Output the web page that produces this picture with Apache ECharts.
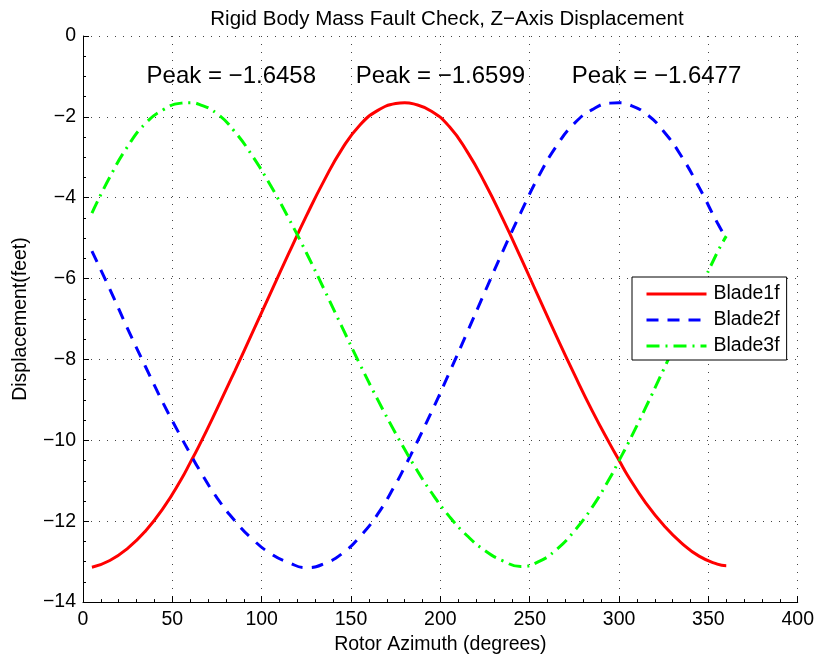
<!DOCTYPE html>
<html>
<head>
<meta charset="utf-8">
<script src="https://cdn.jsdelivr.net/npm/echarts@6/dist/echarts.min.js"></script>
<style>
  html, body { margin: 0; padding: 0; background: #fff; }
  #main { width: 817px; height: 660px; }
</style>
</head>
<body>
<div id="main"></div>
<script>
// rotor azimuth (degrees)
var azimuth = [5, 15, 25, 35, 45, 55, 60, 65, 75, 85, 95, 105, 115, 125, 135, 145, 155, 165, 175, 180,
  185, 195, 205, 215, 225, 235, 245, 255, 265, 275, 285, 295, 300, 305, 315, 325, 335, 345, 355, 360];

// displacement (feet)
var blade1 = [-13.14, -12.97, -12.67, -12.24, -11.67, -10.96, -10.55, -10.13, -9.22, -8.28, -7.32, -6.35, -5.39, -4.45, -3.57, -2.79, -2.20, -1.84, -1.67, -1.65,
  -1.68, -1.86, -2.24, -2.86, -3.64, -4.53, -5.48, -6.46, -7.43, -8.37, -9.27, -10.10, -10.49, -10.88, -11.55, -12.10, -12.54, -12.87, -13.06, -13.10];
var blade2 = [-5.32, -6.26, -7.24, -8.18, -9.09, -9.93, -10.33, -10.72, -11.42, -11.99, -12.45, -12.80, -13.02, -13.15, -13.05, -12.80, -12.38, -11.82, -11.08, -10.66,
  -10.22, -9.30, -8.33, -7.33, -6.32, -5.32, -4.37, -3.47, -2.72, -2.16, -1.82, -1.66, -1.65, -1.69, -1.92, -2.36, -2.98, -3.76, -4.62, -5.00];
var blade3 = [-4.38, -3.49, -2.73, -2.16, -1.82, -1.66, -1.65, -1.69, -1.92, -2.37, -2.98, -3.70, -4.50, -5.36, -6.27, -7.20, -8.12, -9.00, -9.83, -10.22,
  -10.60, -11.29, -11.88, -12.36, -12.73, -12.98, -13.12, -13.00, -12.70, -12.24, -11.65, -10.92, -10.50, -10.08, -9.18, -8.24, -7.28, -6.30, -5.35, -4.95];

var seriesNames = ['Blade1f', 'Blade2f', 'Blade3f'];

// peak annotations, placed in data coordinates
var peakText = ['Peak = −1.6458', 'Peak = −1.6599', 'Peak = −1.6477'];
var peakX = [83, 200, 321];
var peakY = [-1.0, -1.0, -1.0];

var xTicks = [0, 50, 100, 150, 200, 250, 300, 350, 400];
var yTicks = [0, -2, -4, -6, -8, -10, -12, -14];

function pairs(xs, ys) {
  return xs.map(function (x, i) { return [x, ys[i]]; });
}

var font = '"Liberation Sans", Arial, Helvetica, sans-serif';
var gridDots = { show: true, lineStyle: { color: '#444', type: [1, 7], width: 1 } };

var chart = echarts.init(document.getElementById('main'));
chart.setOption({
  animation: false,
  backgroundColor: '#fff',
  title: {
    text: 'Rigid Body Mass Fault Check, Z−Axis Displacement',
    left: 442, top: 4, textAlign: 'center',
    textStyle: { fontFamily: font, fontSize: 20.5, fontWeight: 'normal', color: '#000' }
  },
  grid: { left: 83, right: 16, top: 36, bottom: 57, containLabel: false },
  legend: {
    data: seriesNames,
    orient: 'vertical',
    left: 632, top: 277,
    itemWidth: 60, itemHeight: 14, itemGap: 6,
    padding: [7, 7, 4, 13],
    borderColor: '#000', borderWidth: 1, backgroundColor: '#fff',
    itemStyle: { opacity: 0 },
    lineStyle: { width: 3 },
    textStyle: { fontFamily: font, fontSize: 19.5, color: '#000', lineHeight: 20, padding: [0, 0, 0, 2] }
  },
  xAxis: {
    type: 'value', min: xTicks[0], max: xTicks[xTicks.length - 1], interval: 50,
    name: 'Rotor Azimuth (degrees)', nameLocation: 'middle', nameGap: 30,
    nameTextStyle: { fontFamily: font, fontSize: 19.5, color: '#000' },
    axisLine: { show: true, onZero: false, lineStyle: { color: '#000', width: 1 } },
    axisTick: { show: true, inside: true, length: 6, lineStyle: { color: '#000' } },
    minorTick: { show: true, splitNumber: 5, length: 3, lineStyle: { color: '#000' } },
    axisLabel: { fontFamily: font, fontSize: 19.5, color: '#000', margin: 8 },
    splitLine: gridDots
  },
  yAxis: {
    type: 'value', min: yTicks[yTicks.length - 1], max: yTicks[0], interval: 2,
    name: 'Displacement(feet)', nameLocation: 'middle', nameGap: 52,
    nameTextStyle: { fontFamily: font, fontSize: 19.5, color: '#000' },
    axisLine: { show: true, onZero: false, lineStyle: { color: '#000', width: 1 } },
    axisTick: { show: true, inside: true, length: 6, lineStyle: { color: '#000' } },
    minorTick: { show: true, splitNumber: 4, length: 3, lineStyle: { color: '#000' } },
    axisLabel: {
      fontFamily: font, fontSize: 19.5, color: '#000', margin: 7,
      formatter: function (v) { return String(v).replace('-', '−'); }
    },
    splitLine: gridDots
  },
  series: [
    {
      name: seriesNames[0], type: 'line', smooth: 0.5, symbol: 'none',
      data: pairs(azimuth, blade1),
      lineStyle: { color: '#ff0000', width: 3 }, itemStyle: { color: '#ff0000' }
    },
    {
      name: seriesNames[1], type: 'line', smooth: 0.5, symbol: 'none',
      data: pairs(azimuth, blade2),
      lineStyle: { color: '#0000ff', width: 3, type: [12, 9] }, itemStyle: { color: '#0000ff' }
    },
    {
      name: seriesNames[2], type: 'line', smooth: 0.5, symbol: 'none',
      data: pairs(azimuth, blade3),
      lineStyle: { color: '#00ff00', width: 3, type: [13, 6, 2, 6] }, itemStyle: { color: '#00ff00' }
    },
    {
      name: 'peaks', type: 'scatter', symbolSize: 0, silent: true,
      itemStyle: { opacity: 1, color: '#000' },
      data: peakX.map(function (x, i) { return { value: [x, peakY[i]], name: peakText[i] }; }),
      label: {
        show: true, position: 'inside', formatter: '{b}',
        fontFamily: font, fontSize: 24, color: '#000', textBorderWidth: 0
      }
    }
  ]
});
</script>
</body>
</html>
